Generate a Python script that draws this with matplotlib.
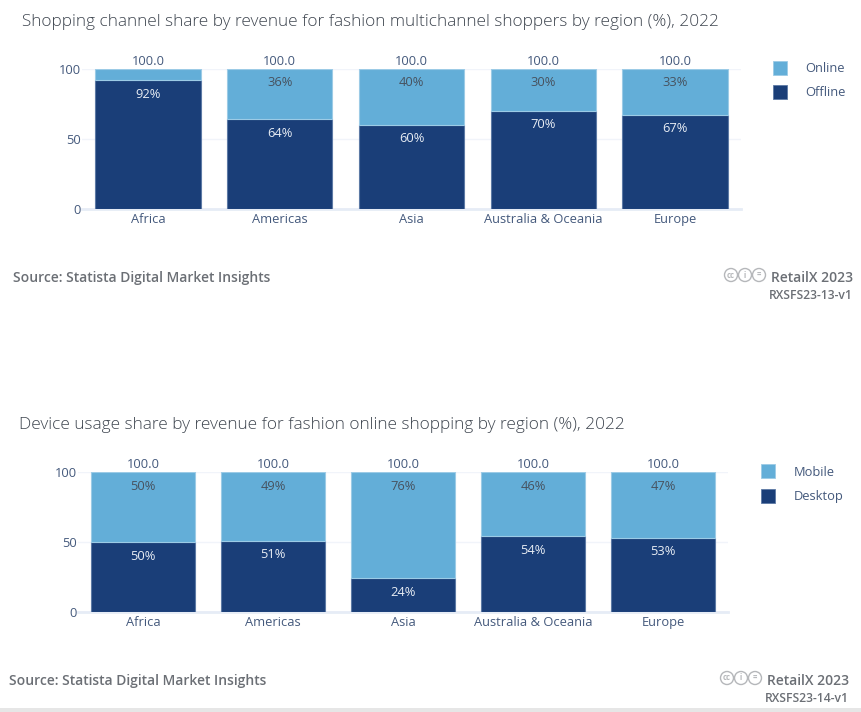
import matplotlib
matplotlib.use("Agg")
import matplotlib.pyplot as plt
from matplotlib.patches import Circle, Rectangle

plt.rcParams['font.family'] = ['Open Sans', 'DejaVu Sans']

regions = ["Africa", "Americas", "Asia", "Australia & Oceania", "Europe"]
offline = [92, 64, 60, 70, 67]
online = [8, 36, 40, 30, 33]
desktop = [50, 51, 24, 54, 53]
mobile = [50, 49, 76, 46, 47]
y_ticks = [0, 50, 100]

title_top = "Shopping channel share by revenue for fashion multichannel shoppers by region (%), 2022"
title_bottom = "Device usage share by revenue for fashion online shopping by region (%), 2022"
source = "Source: Statista Digital Market Insights"

W, H = 862, 712
DARK = "#1a3e78"
LIGHT = "#63aed8"
AXIS_TEXT = "#44597c"
GREY = "#6b6f75"

fig = plt.figure(figsize=(W / 100, H / 100), dpi=100)


def fx(px):
    return px / W


def fy(px):
    return 1 - px / H


def put(x, y, s, **kw):
    fig.text(fx(x), fy(y), s, va="center", **kw)


def draw_panel(left, right, top, bottom, lower, upper, lower_name, upper_name, legend_x, legend_y):
    ax = fig.add_axes([fx(left), fy(bottom), (right - left) / W, (bottom - top) / H])
    pos = range(len(regions))
    ax.bar(pos, lower, width=0.8, color=DARK, edgecolor="#5d7aa5", linewidth=0.8, zorder=3)
    ax.bar(pos, upper, width=0.8, bottom=lower, color=LIGHT, edgecolor="#9ccbe6", linewidth=0.8, zorder=3)
    for i in pos:
        total = lower[i] + upper[i]
        ax.text(i, lower[i] - 10, f"{lower[i]}%", ha="center", va="center", color="#e8edf4", fontsize=9.3, zorder=4)
        # the 8% slice in the first chart has no label
        if upper[i] > 10:
            ax.text(i, total - 10, f"{upper[i]}%", ha="center", va="center", color="#47525f", fontsize=9.3, zorder=4)
        ax.text(i, total + 0.8, f"{total:.1f}", ha="center", va="bottom", color=AXIS_TEXT, fontsize=9.3, zorder=4)
    ax.set_xlim(-0.5, len(regions) - 0.5)
    ax.set_ylim(0, 100)
    ax.set_xticks(list(pos))
    ax.set_xticklabels(regions)
    ax.set_yticks(y_ticks)
    ax.tick_params(axis="both", length=0, labelsize=9.3, labelcolor=AXIS_TEXT)
    ax.tick_params(axis="x", pad=3)
    ax.tick_params(axis="y", pad=1)
    ax.grid(axis="y", color="#f1f4fa", linewidth=1, zorder=0)
    ax.set_axisbelow(True)
    for name in ["top", "right", "left"]:
        ax.spines[name].set_visible(False)
    ax.spines["bottom"].set_color("#e6ecf6")
    ax.spines["bottom"].set_linewidth(2)

    # legend squares and names sit at fixed spots beside the plot
    for j, (name, col, edge) in enumerate([(upper_name, LIGHT, "#9ccbe6"), (lower_name, DARK, "#5d7aa5")]):
        cy = legend_y + j * 24.5
        fig.add_artist(Rectangle((fx(legend_x), fy(cy + 7)), 14 / W, 14 / H, transform=fig.transFigure,
                                 facecolor=col, edgecolor=edge, linewidth=0.6))
        put(legend_x + 32.5, cy + 1, name, color=AXIS_TEXT, fontsize=9.3, ha="left")


def draw_footer(src_x, src_y, right_x, code_y, icon_x, code):
    put(src_x, src_y, source, color=GREY, fontsize=10, fontweight="semibold", ha="left")
    put(right_x, src_y, "RetailX 2023", color=GREY, fontsize=10, fontweight="semibold", ha="right")
    put(right_x, code_y, code, color=GREY, fontsize=8.7, fontweight="semibold", ha="right")
    for k, sym in enumerate(["cc", "i", "="]):
        cx = icon_x + k * 14
        # inches, so the rings stay round
        fig.add_artist(Circle((cx / 100, (H - (src_y - 3)) / 100), 0.065, transform=fig.dpi_scale_trans,
                              fill=False, edgecolor="#b5b7ba", linewidth=1))
        put(cx, src_y - 3, sym, color="#b5b7ba", fontsize=5.5, ha="center", fontweight="bold")


put(22, 22, title_top, color="#3f4650", fontsize=12.45, fontweight="light", ha="left")
draw_panel(82, 741, 69, 208.5, offline, online, "Offline", "Online", 773, 67.5)
draw_footer(13, 278, 853, 295.5, 731, "RXSFS23-13-v1")

put(19, 425, title_bottom, color="#3f4650", fontsize=12.45, fontweight="light", ha="left")
draw_panel(78, 728, 472, 612, desktop, mobile, "Desktop", "Mobile", 761, 471)
draw_footer(9, 681, 849, 698.5, 727, "RXSFS23-14-v1")

# grey page edge along the bottom of the screenshot
fig.add_artist(Rectangle((0, 0), 1, 4 / H, transform=fig.transFigure, facecolor="#e6e6e6", edgecolor="none"))

fig.savefig("out.png", dpi=100)
